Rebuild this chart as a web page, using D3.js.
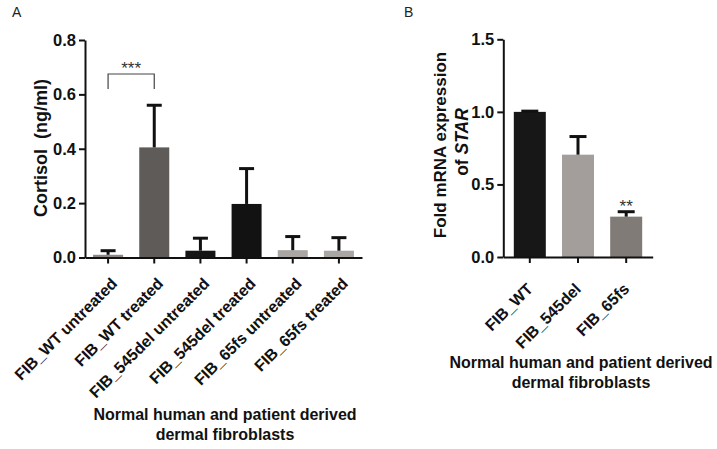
<!DOCTYPE html>
<html>
<head>
<meta charset="utf-8">
<script src="https://cdn.jsdelivr.net/npm/d3@7"></script>
<style>
  html, body { margin: 0; padding: 0; background: #fff; }
  svg { display: block; }
  text { font-family: "Liberation Sans", Arial, sans-serif; }
</style>
</head>
<body>
<svg id="chart" width="717" height="449"></svg>
<script>
// ---------- Data ----------
const categoriesA = ["FIB_WT untreated", "FIB_WT treated", "FIB_545del untreated", "FIB_545del treated", "FIB_65fs untreated", "FIB_65fs treated"];
const valuesA = [0.010, 0.405, 0.025, 0.197, 0.027, 0.025];
const errorsA = [0.015, 0.155, 0.046, 0.130, 0.050, 0.048];
const colorsA = ["#8c8785", "#5f5b58", "#151515", "#121212", "#aaa6a4", "#aaa6a4"];
const ticksA = [0, 0.2, 0.4, 0.6, 0.8];

const categoriesB = ["FIB_WT", "FIB_545del", "FIB_65fs"];
const valuesB = [1.0, 0.705, 0.278];
const errorsB = [0.005, 0.125, 0.034];
const colorsB = ["#171717", "#a39e9c", "#807b77"];
const ticksB = [0, 0.5, 1.0, 1.5];

const svg = d3.select("#chart");

function drawPanel(opt) {
  const g = svg.append("g");
  const x = d3.scaleBand().domain(opt.categories).range(opt.xRange)
    .paddingInner(opt.pi).paddingOuter(opt.po);
  const y = d3.scaleLinear().domain(opt.yDomain).range(opt.yRange);

  // bars
  g.selectAll("rect.bar").data(opt.values).enter().append("rect")
    .attr("x", (d, i) => x(opt.categories[i]))
    .attr("width", x.bandwidth())
    .attr("y", d => y(d))
    .attr("height", d => y(0) - y(d))
    .attr("fill", (d, i) => opt.colors[i]);

  // error bars (upper only)
  const cap = opt.capW;
  opt.values.forEach((v, i) => {
    const cx = x(opt.categories[i]) + x.bandwidth() / 2;
    const top = y(v + opt.errors[i]);
    g.append("line").attr("x1", cx).attr("x2", cx)
      .attr("y1", y(v)).attr("y2", top)
      .attr("stroke", "#111").attr("stroke-width", 3);
    g.append("line").attr("x1", cx - cap / 2).attr("x2", cx + cap / 2)
      .attr("y1", top).attr("y2", top)
      .attr("stroke", "#111").attr("stroke-width", 3);
  });

  // y axis
  const yAxis = d3.axisLeft(y).tickValues(opt.ticks).tickFormat(d3.format(".1f"))
    .tickSize(6).tickSizeOuter(0).tickPadding(3);
  const ya = g.append("g").attr("transform", `translate(${opt.xRange[0]},0)`).call(yAxis);
  ya.select(".domain").attr("stroke", "#111").attr("stroke-width", 2);
  ya.selectAll(".tick line").attr("stroke", "#111").attr("stroke-width", 2);
  ya.selectAll(".tick text").attr("fill", "#111").attr("font-size", 16.5)
    .attr("font-weight", "bold").attr("font-family", "Liberation Sans, Arial, sans-serif");

  // x axis
  const xAxis = d3.axisBottom(x).tickSize(6).tickSizeOuter(0).tickFormat("");
  const xa = g.append("g").attr("transform", `translate(0,${y(0)})`).call(xAxis);
  xa.select(".domain").attr("stroke", "#111").attr("stroke-width", 2);
  xa.selectAll(".tick line").attr("stroke", "#111").attr("stroke-width", 2);

  // rotated category labels
  g.selectAll("text.cat").data(opt.categories).enter().append("text")
    .attr("class", "cat")
    .attr("transform", d => `translate(${x(d) + x.bandwidth() / 2 + opt.labDx},${y(0) + opt.labDy}) rotate(-45)`)
    .attr("text-anchor", "end")
    .attr("font-size", 16).attr("font-weight", "bold").attr("fill", "#111")
    .text(d => d);

  // x title
  opt.xTitle.forEach((t, i) => {
    g.append("text").attr("x", opt.xTitleX).attr("y", opt.xTitleY + i * 20)
      .attr("text-anchor", "middle").attr("font-size", 16).attr("font-weight", "bold")
      .attr("fill", "#111").text(t);
  });

  // panel letter
  g.append("text").attr("x", opt.letterX).attr("y", 17).attr("font-size", 14)
    .attr("fill", "#222").text(opt.letter);

  return { g, x, y };
}

// ---------- Panel A ----------
const A = drawPanel({
  categories: categoriesA, values: valuesA, errors: errorsA, colors: colorsA,
  ticks: ticksA, yDomain: [0, 0.8], yRange: [257.5, 40],
  xRange: [85, 362], pi: 0.35, po: 0.175, capW: 15, labDx: 10, labDy: 27,
  xTitle: ["Normal human and patient derived", "dermal fibroblasts"],
  xTitleX: 225, xTitleY: 420, letter: "A", letterX: 12
});
A.g.append("text")
  .attr("transform", "translate(47,148) rotate(-90)")
  .attr("text-anchor", "middle").attr("font-size", 18).attr("font-weight", "bold")
  .attr("fill", "#111").attr("xml:space", "preserve").text("Cortisol  (ng/ml)");

// significance bracket A
{
  const x1 = A.x(categoriesA[0]) + A.x.bandwidth() / 2;
  const x2 = A.x(categoriesA[1]) + A.x.bandwidth() / 2;
  const yTop = A.y(0.675), yBot = A.y(0.62);
  A.g.append("path")
    .attr("d", `M${x1},${yBot} V${yTop} H${x2} V${yBot}`)
    .attr("fill", "none").attr("stroke", "#444").attr("stroke-width", 1.2);
  A.g.append("text").attr("x", (x1 + x2) / 2).attr("y", 74)
    .attr("text-anchor", "middle").attr("font-size", 17).attr("fill", "#333").text("***");
}

// ---------- Panel B ----------
const B = drawPanel({
  categories: categoriesB, values: valuesB, errors: errorsB, colors: colorsB,
  ticks: ticksB, yDomain: [0, 1.5], yRange: [257, 39.3],
  xRange: [503.3, 652.7], pi: 0.336, po: 0.218, capW: 17, labDx: 4, labDy: 33,
  xTitle: ["Normal human and patient derived", "dermal fibroblasts"],
  xTitleX: 581, xTitleY: 368, letter: "B", letterX: 404
});
{
  B.g.append("text").attr("transform", "translate(445.5,145) rotate(-90)")
    .attr("text-anchor", "middle").attr("font-size", 17).attr("font-weight", "bold")
    .attr("fill", "#111").text("Fold mRNA expression");
  const t2 = B.g.append("text").attr("transform", "translate(468,142) rotate(-90)")
    .attr("text-anchor", "middle").attr("font-size", 17.5).attr("font-weight", "bold")
    .attr("fill", "#111");
  t2.append("tspan").text("of ");
  t2.append("tspan").attr("font-style", "italic").text("STAR");

  const cx = B.x(categoriesB[2]) + B.x.bandwidth() / 2;
  B.g.append("text").attr("x", cx).attr("y", 212)
    .attr("text-anchor", "middle").attr("font-size", 17).attr("fill", "#333").text("**");
}
</script>
</body>
</html>
